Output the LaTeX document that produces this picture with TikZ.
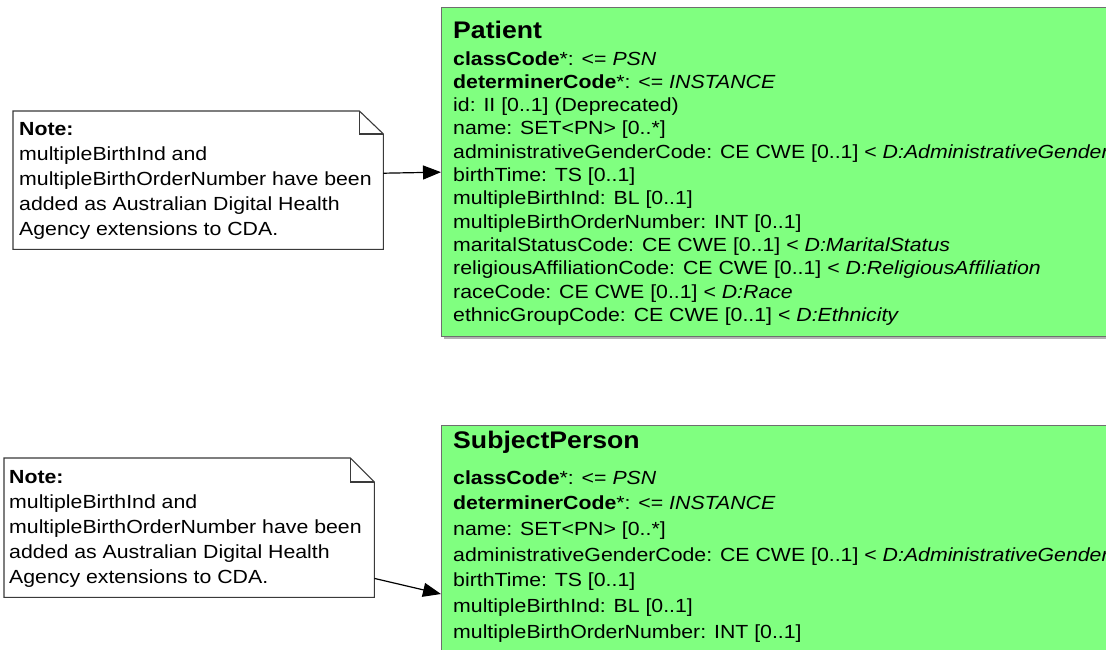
\documentclass[tikz,border=0pt]{standalone}
\usepackage{fontspec}
\setmainfont{Liberation Sans}
\newfontfamily\bodyf[FakeStretch=1.12]{Liberation Sans}
\newfontfamily\titlef[FakeStretch=1.11]{Liberation Sans}
\usetikzlibrary{arrows.meta}
\definecolor{umlgreen}{HTML}{80FF80}
\definecolor{umlborder}{HTML}{6E6E6E}
\definecolor{noteborder}{HTML}{3A3A3A}
\newcommand{\attrfont}{\bodyf\fontsize{19}{23.3}\selectfont}
\newcommand{\subjfont}{\bodyf\fontsize{19}{25.7}\selectfont}
\newcommand{\notefont}{\bodyf\fontsize{19}{25.2}\selectfont}
\newcommand{\titlefnt}{\titlef\fontsize{24}{27}\selectfont\bfseries}
\begin{document}
\begin{tikzpicture}[x=1pt,y=-1pt,
  classbox/.style={draw=umlborder, fill=umlgreen, line width=1.3pt, anchor=north west, inner sep=0pt, minimum width=720pt},
  notebox/.style={anchor=north west, inner sep=0pt, minimum width=370pt},
  noteline/.style={draw=noteborder, fill=white, line width=1.1pt, line join=miter},
  foldline/.style={draw=noteborder, line width=1.1pt},
  txt/.style={anchor=base west, inner sep=0pt},
  link/.style={draw=black, line width=1.2pt, -{Triangle[length=18pt,width=14pt]}},
  shadowfill/.style={fill=black!30}
]
\useasboundingbox (0,0) rectangle (1106,649);
\fill[white] (0,0) rectangle (1106,649);

% ---------- Patient class ----------
\fill[shadowfill] (444,10) rectangle (1170,339);
\node (patient) [classbox, minimum height=329pt] at (441,7) {};
\node (pattitle) [txt, font=\titlefnt] at (453,38) {Patient};
\node (patattrs) [txt, font=\attrfont] at (453,65) {\begin{tabular}[t]{@{}l@{}}
{\bfseries classCode}*: <= \textit{PSN}\\
{\bfseries determinerCode}*: <= \textit{INSTANCE}\\
id: II [0..1] (Deprecated)\\
name: SET<PN> [0..*]\\
administrativeGenderCode: CE CWE [0..1] < \textit{D:AdministrativeGender}\\
birthTime: TS [0..1]\\
multipleBirthInd: BL [0..1]\\
multipleBirthOrderNumber: INT [0..1]\\
maritalStatusCode: CE CWE [0..1] < \textit{D:MaritalStatus}\\
religiousAffiliationCode: CE CWE [0..1] < \textit{D:ReligiousAffiliation}\\
raceCode: CE CWE [0..1] < \textit{D:Race}\\
ethnicGroupCode: CE CWE [0..1] < \textit{D:Ethnicity}
\end{tabular}};

% ---------- SubjectPerson class ----------
\fill[shadowfill] (444,428) rectangle (1170,700);
\node (subject) [classbox, minimum height=280pt] at (441,425) {};
\node (subjtitle) [txt, font=\titlefnt] at (453,448) {SubjectPerson};
\node (subjattrs) [txt, font=\subjfont] at (453,484) {\begin{tabular}[t]{@{}l@{}}
{\bfseries classCode}*: <= \textit{PSN}\\
{\bfseries determinerCode}*: <= \textit{INSTANCE}\\
name: SET<PN> [0..*]\\
administrativeGenderCode: CE CWE [0..1] < \textit{D:AdministrativeGender}\\
birthTime: TS [0..1]\\
multipleBirthInd: BL [0..1]\\
multipleBirthOrderNumber: INT [0..1]
\end{tabular}};

% ---------- Note 1 ----------
\node (note1) [notebox, minimum height=138pt] at (13,111) {};
\path[noteline] (note1.north west) -- ([xshift=-24pt]note1.north east) -- ([yshift=-23pt]note1.north east) -- (note1.south east) -- (note1.south west) -- cycle;
\path[foldline] ([xshift=-24pt]note1.north east) -- ([xshift=-24pt,yshift=-23pt]note1.north east) -- ([yshift=-23pt]note1.north east);
\node (note1text) [txt, font=\notefont] at (19,135) {\begin{tabular}[t]{@{}l@{}}
{\bfseries Note:}\\
multipleBirthInd and\\
multipleBirthOrderNumber have been\\
added as Australian Digital Health\\
Agency extensions to CDA.
\end{tabular}};

% ---------- Note 2 ----------
\node (note2) [notebox, minimum height=139pt] at (4,458) {};
\path[noteline] (note2.north west) -- ([xshift=-24pt]note2.north east) -- ([yshift=-24pt]note2.north east) -- (note2.south east) -- (note2.south west) -- cycle;
\path[foldline] ([xshift=-24pt]note2.north east) -- ([xshift=-24pt,yshift=-24pt]note2.north east) -- ([yshift=-24pt]note2.north east);
\node (note2text) [txt, font=\notefont] at (9,483) {\begin{tabular}[t]{@{}l@{}}
{\bfseries Note:}\\
multipleBirthInd and\\
multipleBirthOrderNumber have been\\
added as Australian Digital Health\\
Agency extensions to CDA.
\end{tabular}};

% ---------- connectors ----------
\draw[link] ([yshift=7pt]note1.east) -- (patient.west);
\draw[link] ([yshift=19pt]note2.south east) -- ([yshift=-169pt]subject.north west);
\end{tikzpicture}
\end{document}
